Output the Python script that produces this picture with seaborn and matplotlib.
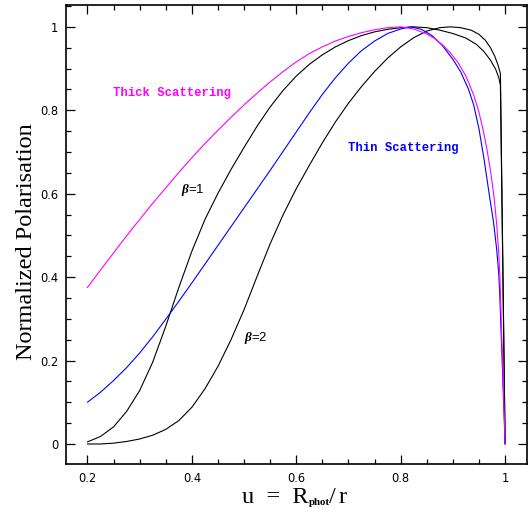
import matplotlib
matplotlib.use("Agg")
import matplotlib.pyplot as plt
from matplotlib.ticker import MultipleLocator, FuncFormatter
import seaborn as sns

# Normalised polarisation against u = R_phot / r
u_thick = [0.200, 0.225, 0.250, 0.275, 0.300, 0.325, 0.350, 0.375, 0.400,
           0.425, 0.450, 0.475, 0.500, 0.525, 0.550, 0.575, 0.600, 0.625,
           0.650, 0.675, 0.700, 0.725, 0.750, 0.775, 0.800, 0.825, 0.850,
           0.865, 0.880, 0.895, 0.910, 0.925, 0.940, 0.950, 0.958, 0.965,
           0.972, 0.979, 0.984, 0.988, 0.990, 1.000]
p_thick = [0.375, 0.417, 0.458, 0.499, 0.538, 0.577, 0.614, 0.651, 0.686,
           0.720, 0.752, 0.783, 0.813, 0.841, 0.868, 0.893, 0.916, 0.936,
           0.952, 0.966, 0.977, 0.986, 0.993, 0.998, 1.000, 0.995, 0.983,
           0.972, 0.957, 0.938, 0.914, 0.882, 0.836, 0.795, 0.752, 0.708,
           0.655, 0.590, 0.525, 0.455, 0.400, 0.0]

u_thin = [0.200, 0.225, 0.250, 0.275, 0.300, 0.325, 0.350, 0.375, 0.400,
          0.425, 0.450, 0.475, 0.500, 0.525, 0.550, 0.575, 0.600, 0.625,
          0.650, 0.675, 0.700, 0.725, 0.750, 0.775, 0.800, 0.820, 0.840,
          0.860, 0.880, 0.900, 0.915, 0.930, 0.940, 0.950, 0.960, 0.970,
          0.978, 0.984, 0.988, 0.990, 1.000]
p_thin = [0.100, 0.124, 0.152, 0.183, 0.218, 0.257, 0.299, 0.342, 0.386,
          0.431, 0.476, 0.521, 0.566, 0.611, 0.656, 0.702, 0.748, 0.794,
          0.838, 0.878, 0.913, 0.943, 0.966, 0.984, 0.995, 1.000, 0.994,
          0.979, 0.955, 0.922, 0.892, 0.850, 0.812, 0.755, 0.680, 0.595,
          0.530, 0.465, 0.405, 0.350, 0.0]

u_beta1 = [0.200, 0.225, 0.250, 0.275, 0.300, 0.325, 0.350, 0.375, 0.400,
           0.425, 0.450, 0.475, 0.500, 0.525, 0.550, 0.575, 0.600, 0.625,
           0.650, 0.675, 0.700, 0.725, 0.750, 0.775, 0.800, 0.825, 0.850,
           0.875, 0.900, 0.925, 0.945, 0.960, 0.972, 0.982, 0.988, 0.991,
           1.000]
p_beta1 = [0.005, 0.018, 0.041, 0.078, 0.128, 0.196, 0.282, 0.375, 0.462,
           0.538, 0.601, 0.658, 0.711, 0.762, 0.808, 0.848, 0.882, 0.910,
           0.933, 0.952, 0.967, 0.979, 0.988, 0.994, 0.998, 1.000, 0.998,
           0.992, 0.984, 0.973, 0.958, 0.940, 0.920, 0.898, 0.878, 0.860,
           0.0]

u_beta2 = [0.200, 0.225, 0.250, 0.275, 0.300, 0.325, 0.350, 0.375, 0.400,
           0.425, 0.450, 0.475, 0.500, 0.525, 0.550, 0.575, 0.600, 0.625,
           0.650, 0.675, 0.700, 0.725, 0.750, 0.775, 0.800, 0.825, 0.850,
           0.875, 0.895, 0.915, 0.935, 0.950, 0.962, 0.972, 0.980, 0.986,
           0.991, 1.000]
p_beta2 = [0.000, 0.000, 0.002, 0.006, 0.012, 0.021, 0.035, 0.056, 0.088,
           0.132, 0.186, 0.250, 0.322, 0.402, 0.480, 0.550, 0.612, 0.668,
           0.722, 0.772, 0.817, 0.857, 0.893, 0.925, 0.952, 0.974, 0.990,
           0.998, 1.000, 0.998, 0.992, 0.982, 0.968, 0.950, 0.930, 0.910,
           0.888, 0.0]

MAGENTA = "#ff00ff"
BLUE = "#0000ff"

sns.set_theme(style="ticks")
plt.rcParams.update({
    "font.family": ["DejaVu Sans"],
    "mathtext.fontset": "custom",
    "mathtext.it": "Liberation Serif:italic:bold",
    "mathtext.rm": "Liberation Sans",
    "axes.linewidth": 1.2,
    "axes.edgecolor": "black",
})

fig = plt.figure(figsize=(5.29, 5.15), dpi=100)
ax = fig.add_axes([0.1248, 0.0990, 0.8715, 0.8918])

for u, p, colour in [(u_beta1, p_beta1, "black"),
                     (u_beta2, p_beta2, "black"),
                     (u_thin, p_thin, BLUE),
                     (u_thick, p_thick, MAGENTA)]:
    sns.lineplot(x=u, y=p, color=colour, lw=0.8, sort=False,
                 estimator=None, ax=ax)

ax.set_xlim(0.159, 1.042)
ax.set_ylim(-0.048, 1.053)
ax.xaxis.set_major_locator(MultipleLocator(0.2))
ax.xaxis.set_minor_locator(MultipleLocator(0.05))
ax.yaxis.set_major_locator(MultipleLocator(0.2))
ax.yaxis.set_minor_locator(MultipleLocator(0.05))
fmt = FuncFormatter(lambda v, _: f"{round(v, 3):g}")
ax.xaxis.set_major_formatter(fmt)
ax.yaxis.set_major_formatter(fmt)
ax.tick_params(which="both", direction="in", top=True, right=True,
               color="black", width=0.9, labelsize=8.3, labelcolor="black")
ax.tick_params(which="major", length=6.8)
ax.tick_params(which="minor", length=3.5)
ax.tick_params(axis="x", pad=6.0)
ax.tick_params(axis="y", pad=5.5)
ax.set_xlabel("")
ax.set_ylabel("")

# curve annotations
ax.text(0.249, 0.841, "Thick Scattering", color=MAGENTA,
        family="Liberation Mono", weight="bold", size=8.8,
        ha="left", va="center")
ax.text(0.699, 0.709, "Thin Scattering", color=BLUE,
        family="Liberation Mono", weight="bold", size=8.8,
        ha="left", va="center")
ax.text(0.379, 0.609, r"$\beta$=1", family="Liberation Sans", size=9.5,
        ha="left", va="center", color="black")
ax.text(0.500, 0.254, r"$\beta$=2", family="Liberation Sans", size=9.5,
        ha="left", va="center", color="black")

# axis titles
fig.text(27 / 529, 1 - 241.5 / 515, "Normalized Polarisation",
         rotation=90, family="Liberation Serif", size=17.5,
         ha="center", va="center", color="black")

t1 = fig.text(241.7 / 529, 1 - 503.3 / 515, "u  =  R",
              family="Liberation Serif", size=17.5, ha="left",
              va="baseline", color="black")
t2 = ax.annotate("phot", xy=(1, 0), xycoords=t1, xytext=(0.6, 2.4),
                 textcoords="offset points", family="Liberation Serif",
                 weight="bold", size=7.8, ha="left", va="baseline",
                 color="black")
t3 = ax.annotate("/", xy=(1, 0), xycoords=(t2, t1), xytext=(-1.0, 0),
                 textcoords="offset points", family="Liberation Serif",
                 size=17.5, ha="left", va="bottom", color="black")
t4 = ax.annotate("r", xy=(1, 0), xycoords=(t3, t1), xytext=(2.0, 0),
                 textcoords="offset points", family="Liberation Serif",
                 size=17.5, ha="left", va="bottom", color="black")

fig.savefig("out.png", dpi=100, facecolor="white")
